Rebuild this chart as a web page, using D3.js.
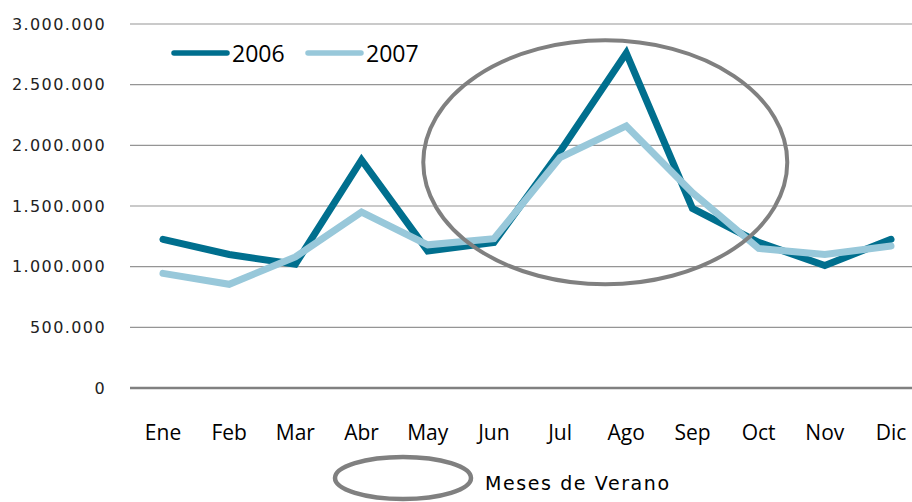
<!DOCTYPE html>
<html>
<head>
<meta charset="utf-8">
<script src="https://cdn.jsdelivr.net/npm/d3@7"></script>
<style>
  body { margin: 0; background: #fff; }
</style>
</head>
<body>
<script>
var width = 912;
var height = 502;

// Data.
var months = ['Ene', 'Feb', 'Mar', 'Abr', 'May', 'Jun', 'Jul', 'Ago', 'Sep', 'Oct', 'Nov', 'Dic'];
var values2006 = [1225000, 1100000, 1020000, 1880000, 1130000, 1200000, 1950000, 2760000, 1480000, 1200000, 1010000, 1225000];
var values2007 = [945000, 855000, 1080000, 1450000, 1180000, 1230000, 1900000, 2160000, 1610000, 1150000, 1100000, 1170000];
var yTicks = [0, 500000, 1000000, 1500000, 2000000, 2500000, 3000000];
var seriesNames = ['2006', '2007'];
var summerLabel = 'Meses de Verano';

var colors = ['#006f8e', '#98c8da'];

var svg = d3.select('body')
  .append('svg')
  .attr('width', width)
  .attr('height', height);

// Scales.
var x = d3.scalePoint()
  .domain(months)
  .range([163, 891]);

var y = d3.scaleLinear()
  .domain([0, 3000000])
  .range([388, 24]);

var fmt = function(d) { return d3.format(',')(d).replace(/,/g, '.'); };

// Gridlines.
svg.append('g')
  .selectAll('line')
  .data(yTicks)
  .enter().append('line')
  .attr('x1', 130)
  .attr('x2', width)
  .attr('y1', function(d) { return y(d); })
  .attr('y2', function(d) { return y(d); })
  .attr('stroke', function(d) { return d === 0 ? '#808080' : '#959595'; })
  .attr('stroke-width', function(d) { return d === 0 ? 2.5 : 1.2; });

// Y axis labels.
svg.append('g')
  .selectAll('text')
  .data(yTicks)
  .enter().append('text')
  .attr('x', 106)
  .attr('y', function(d) { return y(d); })
  .attr('dy', '0.36em')
  .attr('text-anchor', 'end')
  .attr('font-family', 'DejaVu Sans, Verdana, sans-serif')
  .attr('font-size', 16)
  .attr('letter-spacing', 1.4)
  .attr('fill', '#222')
  .text(fmt);

// X axis labels.
svg.append('g')
  .selectAll('text')
  .data(months)
  .enter().append('text')
  .attr('x', function(d) { return x(d); })
  .attr('y', 440)
  .attr('text-anchor', 'middle')
  .attr('font-family', 'Open Sans, sans-serif')
  .attr('font-size', 21)
  .attr('fill', '#000')
  .text(function(d) { return d; });

// Lines.
var line = d3.line()
  .x(function(d, i) { return x(months[i]); })
  .y(function(d) { return y(d); });

svg.append('g')
  .selectAll('path')
  .data([values2006, values2007])
  .enter().append('path')
  .attr('d', line)
  .attr('fill', 'none')
  .attr('stroke', function(d, i) { return colors[i]; })
  .attr('stroke-width', 7)
  .attr('stroke-linejoin', 'miter')
  .attr('stroke-linecap', 'round');

// Summer months ellipse.
svg.append('ellipse')
  .attr('cx', x('Ago') - 21)
  .attr('cy', y(1860000))
  .attr('rx', 182)
  .attr('ry', 122)
  .attr('fill', 'none')
  .attr('stroke', '#808080')
  .attr('stroke-width', 4);

// Legend.
var legend = svg.append('g')
  .selectAll('g')
  .data(seriesNames)
  .enter().append('g')
  .attr('transform', function(d, i) { return 'translate(' + (174 + i * 134) + ',53)'; });

legend.append('line')
  .attr('x1', 0)
  .attr('x2', 53)
  .attr('stroke', function(d, i) { return colors[i]; })
  .attr('stroke-width', 5.5)
  .attr('stroke-linecap', 'round');

legend.append('text')
  .attr('x', 58)
  .attr('y', 9)
  .attr('font-family', 'Open Sans, sans-serif')
  .attr('font-size', 23)
  .attr('fill', '#000')
  .text(function(d) { return d; });

// Bottom legend.
svg.append('ellipse')
  .attr('cx', 403)
  .attr('cy', 478)
  .attr('rx', 68)
  .attr('ry', 21)
  .attr('fill', 'none')
  .attr('stroke', '#808080')
  .attr('stroke-width', 4.5);

svg.append('text')
  .attr('x', 485)
  .attr('y', 490)
  .attr('font-family', 'DejaVu Sans, Verdana, sans-serif')
  .attr('font-size', 19)
  .attr('letter-spacing', 1.6)
  .attr('fill', '#000')
  .text(summerLabel);
</script>
</body>
</html>
